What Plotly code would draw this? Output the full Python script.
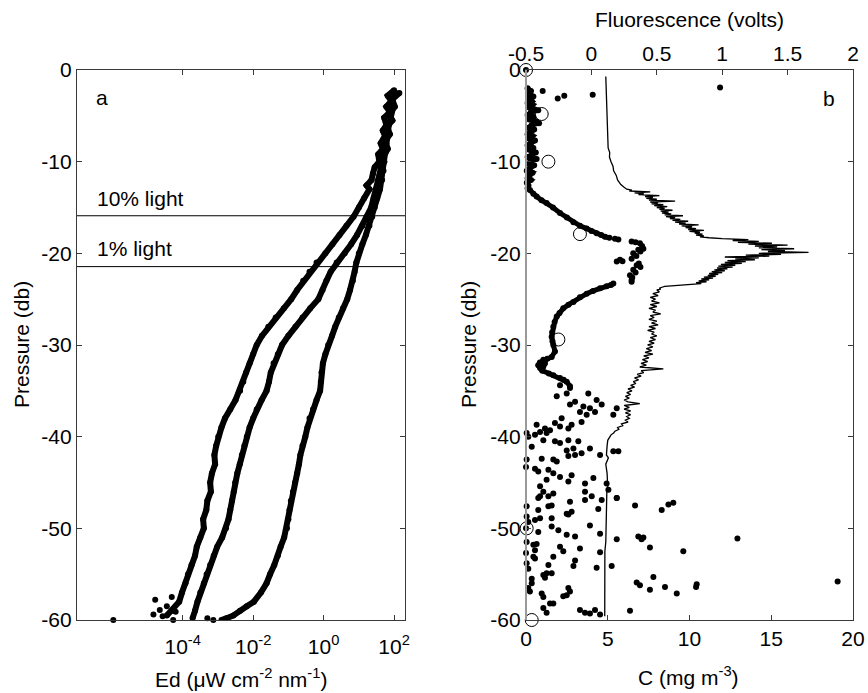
import plotly.graph_objects as go

# ---------------- Panel a: downwelling irradiance profiles (log10 Ed) ----------------
p1 = [-2.2, -2.8, -3.4, -4, -4.6, -5.2, -6, -6.6, -7.2, -8, -8.6, -9.2, -10, -10.6, -11.3, -12, -12.6, -13, -14, -15, -16,
      -17, -18, -19, -20, -21, -22, -23, -24, -25, -26, -27, -28, -29, -30, -31, -32, -33, -34, -35,
      -36, -37, -38, -39, -40, -41, -42, -43, -44, -45, -46, -47, -48, -49, -50, -51, -52, -53, -54,
      -55, -56, -57, -58, -59, -59.5]
logE1 = [2.0, 1.82, 1.92, 1.78, 1.88, 1.72, 1.78, 1.68, 1.74, 1.62, 1.68, 1.55, 1.58, 1.45, 1.4, 1.36, 1.22, 1.3, 1.15, 1.0, 0.85,
         0.65, 0.45, 0.25, 0.05, -0.2, -0.4, -0.58, -0.75, -0.92, -1.13, -1.36, -1.57, -1.75, -1.9, -2.0, -2.1, -2.2, -2.28, -2.37,
         -2.5, -2.65, -2.8, -2.9, -2.99, -3.05, -3.1, -3.08, -3.17, -3.22, -3.2, -3.3, -3.33, -3.42, -3.4, -3.5, -3.6, -3.65, -3.75,
         -3.85, -3.92, -4.02, -4.1, -4.3, -4.45]
p1_sc = [-57.8, -58.5, -59.6, -59.4, -60.0, -60.0, -57.5, -59.1, -58.9]
logE1_sc = [-4.78, -4.45, -4.57, -4.83, -5.97, -4.27, -4.31, -4.2, -4.65]

p2 = [-2.5, -3.2, -4, -4.8, -5.5, -6.2, -7, -7.8, -8.6, -9.4, -10, -10.8, -11.5, -12, -13, -14, -15, -16, -17, -18, -19, -20,
      -21, -22, -23, -24, -25, -26, -27, -28, -29, -30, -31, -32, -33, -34, -35, -36, -37, -38, -39,
      -40, -41, -42, -43, -44, -45, -46, -47, -48, -49, -50, -51, -52, -53, -54, -55, -56, -57, -58,
      -59, -59.8]
logE2 = [2.15, 1.95, 2.02, 1.85, 1.95, 1.8, 1.88, 1.75, 1.82, 1.7, 1.72, 1.62, 1.58, 1.55, 1.48, 1.42, 1.35, 1.22, 1.1, 0.95, 0.78, 0.6,
         0.37, 0.2, 0.08, -0.03, -0.15, -0.38, -0.6, -0.8, -1.0, -1.18, -1.3, -1.42, -1.5, -1.55, -1.62, -1.76, -1.9, -2.0, -2.1,
         -2.18, -2.25, -2.32, -2.38, -2.45, -2.51, -2.55, -2.6, -2.65, -2.7, -2.77, -2.88, -3.02, -3.12, -3.22, -3.32, -3.4, -3.5, -3.58,
         -3.65, -3.72]

p3 = [-2.5, -3.2, -4, -5, -6, -7, -8, -9, -10, -11, -12, -13, -14, -15, -16, -17, -18, -19, -20,
      -21, -22, -23, -24, -25, -26, -27, -28, -29, -30, -31, -32, -33, -34, -35, -36, -37, -38, -39,
      -40, -41, -42, -43, -44, -45, -46, -47, -48, -49, -50, -51, -52, -53, -54, -55, -56, -57, -58,
      -58.5, -59, -59.5, -59.8, -60]
logE3 = [2.05, 1.95, 1.98, 1.9, 1.85, 1.82, 1.78, 1.76, 1.72, 1.7, 1.66, 1.6, 1.52, 1.45, 1.38, 1.3, 1.2, 1.1, 1.0,
         0.93, 0.88, 0.83, 0.75, 0.67, 0.55, 0.43, 0.33, 0.24, 0.13, 0.05, -0.02, -0.06, -0.08, -0.1, -0.2, -0.3, -0.4, -0.46,
         -0.52, -0.6, -0.66, -0.7, -0.75, -0.81, -0.87, -0.93, -0.97, -1.0, -1.04, -1.12, -1.22, -1.3, -1.4, -1.52, -1.62, -1.78, -1.98,
         -2.18, -2.37, -2.56, -2.75, -2.9]
p3_sc = [-60.0, -59.8]
logE3_sc = [-3.13, -3.3]

light_levels = [-15.9, -21.45]
light_labels = ["10% light", "1% light"]
Ed_tick_exp = [-4, -2, 0, 2]

# ---------------- Panel b: chlorophyll profile ----------------
C_profA = [0.1, 0.3, 0.2, 0.45, 0.15, 0.35, 0.1, 0.4, 0.2, 0.55, 0.75, 0.3, 0.1, 0.45, 0.2, 0.6, 0.8, 0.35, 0.15, 0.5,
           0.25, 0.1, 0.4, 0.2, 0.55, 0.3, 0.1, 0.45, 0.2, 0.6, 0.35, 0.1, 0.65, 0.3, 0.15, 0.5, 0.25, 0.05, 0.4, 0.2,
           0.1, 0.3, 0.05, 0.15, 0.1,
           0.24, 0.45, 0.65, 0.95, 1.26, 1.65, 2.08, 2.5, 2.9, 3.3, 3.71, 4.0, 4.32, 4.6, 4.83, 5.1]
D_profA = [-2.0, -2.3, -2.6, -2.9, -3.1, -3.4, -3.6, -3.8, -4.1, -4.3, -4.4, -4.6, -4.9, -5.1, -5.4, -5.6, -5.8, -6.0, -6.3, -6.5,
           -6.8, -7.0, -7.2, -7.5, -7.7, -8.0, -8.2, -8.5, -8.7, -9.0, -9.2, -9.5, -9.7, -9.9, -10.2, -10.4, -10.7, -11.0, -11.2, -11.5,
           -11.8, -12.0, -12.3, -12.6, -12.9,
           -13.1, -13.5, -13.8, -14.2, -14.5, -15.0, -15.6, -16.1, -16.6, -17.0, -17.3, -17.55, -17.8, -18.0, -18.2, -18.3]
C_profB = [5.2, 4.93, 4.53, 4.1, 3.71, 3.3, 2.9, 2.6, 2.28, 2.05, 1.88, 1.75, 1.67, 1.6, 1.57, 1.62, 1.67, 1.77, 1.57, 1.3, 1.06,
           0.85, 0.75, 0.86, 1.16, 1.0, 1.4, 1.67, 2.08, 2.3, 2.49, 2.69]
D_profB = [-23.45, -23.6, -23.8, -24.1, -24.4, -24.8, -25.3, -25.6, -26.0, -26.5, -26.9, -27.5, -28.0, -28.6, -29.1, -29.6, -30.0,
           -30.7, -31.3, -31.5, -31.6, -31.9, -32.2, -32.5, -32.0, -32.8, -33.1, -33.3, -33.6, -33.8, -34.0, -34.5]
C_dots = [0, 1.02, 1.94, 2.34, 4.08, 11.87, 5.44, 5.65,
          6.46, 6.7, 6.97, 7.1, 7.18, 6.87, 7.0, 6.56, 6.75, 6.46, 5.75, 5.55, 5.9, 6.77, 7.0, 6.9, 6.56, 6.7, 6.36,
          6.46, 6.5, 5.34, 6.46,
          2.08, 2.69, 2.49, 1.88, 3.81, 4.32, 4.63, 3.0, 2.69, 3.51, 3.91, 3.3, 4.22, 3.71, 3.4, 5.34, 5.55, 2.18,
          1.77, 2.08, 2.79, 2.59, 0.65, 1.16, 1.47, 0.86, 1.26, 0.04, 0.14, 0.55, 1.06, 1.77, 2.08, 2.59, 3.2, 0.35,
          3.91, 2.49, 2.9, 3.4, 3.0, 2.59, 4.53, 5.34, 5.65, 0.04, 0.0, 0.96, 1.67, 1.88, 0.55, 0.75, 1.37, 1.67,
          2.08, 2.79, 1.26, 4.12, 3.61, 2.59, 0.86, 1.06, 1.67, 3.61, 4.93, 5.04, 5.55, 0.75, 1.37,
          0.86, 2.69, 3.61, 4.02, 4.63, 5.55, 0.04, 0.75, 1.37, 1.57, 2.49, 2.79, 2.59, 4.42, 6.67, 8.3, 8.71, 9.01,
          0.04, 0.14, 0.55, 0.86, 1.57, 0.0, 0.75, 1.57, 1.98, 2.49, 3.0, 3.91, 4.53, 5.55, 6.87, 7.07, 7.18, 0.04,
          0.45, 0.65, 0.55, 2.08, 2.28, 3.3, 4.53, 7.58, 9.62, 0.0, 0.45, 0.55, 1.67, 1.37, 2.9, 3.0, 0.04, 0.14,
          1.06, 1.26, 1.57, 1.16, 0.35, 0.35, 4.32, 5.24, 7.79, 6.77, 6.97, 8.5, 10.44, 10.4, 0.14, 0.24, 0.96, 1.06,
          2.59, 2.69, 2.49, 2.28, 7.58, 9.22, 1.47, 1.67, 1.06, 1.26, 3.3, 3.61, 3.91, 4.22, 4.53, 6.36,
          12.93, 19.06]
D_dots = [0, -2.3, -3.1, -2.8, -2.7, -1.9, -18.4, -18.5,
          -18.7, -18.8, -18.9, -19.2, -19.5, -19.6, -19.8, -20.0, -20.3, -20.6, -20.7, -20.9, -20.85, -21.3, -21.5, -21.1, -21.8, -22.1, -22.4,
          -22.9, -22.65, -23.3, -23.1,
          -34.4, -34.7, -35.3, -35.6, -35.3, -36.0, -36.5, -36.2, -36.5, -36.7, -36.9, -37.3, -37.3, -37.6, -38.4, -37.6, -36.9, -38.0,
          -38.5, -38.9, -38.7, -39.1, -38.7, -39.1, -39.3, -39.5, -39.6, -39.6, -40.0, -39.8, -40.4, -40.5, -40.7, -40.4, -40.5, -41.1,
          -41.3, -41.5, -41.3, -41.8, -42.0, -42.1, -42.0, -41.6, -41.6, -42.5, -43.3, -42.4, -42.5, -42.7, -43.5, -43.8, -43.6, -44.0,
          -44.4, -44.2, -44.7, -44.5, -45.1, -44.9, -45.4, -46.0, -46.2, -46.0, -45.1, -45.8, -46.7, -46.7, -46.5,
          -46.5, -47.1, -46.9, -46.5, -46.9, -46.7, -47.6, -48.0, -47.6, -47.5, -48.4, -48.2, -48.5, -47.9, -47.5, -48.0, -47.4, -47.2,
          -48.7, -49.3, -49.1, -48.9, -48.9, -50.0, -50.4, -49.8, -50.2, -50.7, -50.9, -49.7, -50.6, -51.2, -50.9, -51.2, -51.0, -51.5,
          -51.8, -51.7, -52.4, -52.0, -52.5, -52.2, -52.6, -52.1, -52.5, -52.7, -53.1, -53.3, -53.1, -54.0, -54.1, -53.5, -53.8, -54.4,
          -55.1, -54.9, -54.9, -55.4, -55.5, -56.0, -54.3, -54.1, -55.3, -55.9, -56.2, -56.4, -56.1, -56.4, -56.5, -56.9, -57.1, -57.5,
          -56.5, -56.9, -57.3, -57.4, -56.7, -57.1, -58.2, -58.2, -58.7, -59.2, -58.9, -59.2, -59.3, -58.9, -59.4, -59.0,
          -51.1, -55.8]

C_bottle = [0.0, 0.96, 1.37, 3.3, 1.98, 0.04, 0.35]
C_bottle_depth = [0.0, -4.8, -10.0, -17.9, -29.4, -50.0, -60.0]

# ---------------- Panel b: fluorescence trace ----------------
fl_depth = [-0.7, -1.5, -2.5, -3.5, -4.5, -5.5, -6.5, -7.5, -8.5, -9.0, -9.5, -10.0, -10.5, -11.0, -11.5, -12.0, -12.5, -12.8,
            -13.0, -13.1, -13.2, -13.3, -13.4, -13.5, -13.6, -13.7, -13.8, -13.9,
            -14.0, -14.1, -14.2, -14.3, -14.4, -14.5, -14.6, -14.7, -14.8, -14.9,
            -15.0, -15.1, -15.2, -15.3, -15.4, -15.5, -15.6, -15.7, -15.8, -15.9,
            -16.0, -16.1, -16.2, -16.3, -16.4, -16.5, -16.6, -16.7, -16.8, -16.9,
            -17.0, -17.1, -17.2, -17.3, -17.4, -17.5, -17.6, -17.7, -17.8, -17.9,
            -18.0, -18.1, -18.2, -18.3, -18.4, -18.5, -18.6, -18.7, -18.8, -18.9,
            -19.0, -19.1, -19.2, -19.3, -19.4, -19.5, -19.6, -19.7, -19.8, -19.9,
            -20.0, -20.1, -20.2, -20.3, -20.4, -20.5, -20.6, -20.7, -20.8, -20.9,
            -21.0, -21.1, -21.2, -21.3, -21.4, -21.5, -21.6, -21.7, -21.8, -21.9,
            -22.0, -22.1, -22.2, -22.3, -22.4, -22.5, -22.6, -22.7, -22.8, -22.9,
            -23.0, -23.1, -23.2, -23.3, -23.4, -23.5, -23.6, -23.7, -23.8, -23.9, -24.0,
            -24.2, -24.4, -24.6, -24.8, -25.0, -25.2, -25.4, -25.6, -25.8, -26.0, -26.2, -26.4, -26.6, -26.8,
            -27.0, -27.2, -27.4, -27.6, -27.8, -28.0, -28.2, -28.4, -28.6, -28.8, -29.0, -29.2, -29.4, -29.6, -29.8,
            -30.0, -30.2, -30.4, -30.6, -30.8, -31.0, -31.2, -31.4, -31.6, -31.8, -32.0, -32.2, -32.4, -32.6, -32.8,
            -33.0, -33.2, -33.4, -33.6, -33.8, -34.0, -34.2, -34.4, -34.6, -34.8, -35.0, -35.2, -35.4, -35.6, -35.8,
            -36.0, -36.2, -36.4, -36.6, -36.8, -37.0, -37.2, -37.4, -37.6, -37.8, -38.0, -38.2, -38.4, -38.6, -38.8,
            -39.0, -39.2, -39.4, -39.6, -39.8, -40.0, -40.2, -40.4,
            -41.0, -42.0, -42.3, -43.0, -44.0, -45.5, -46.0, -48.0, -50.0, -51.5, -52.5, -55.0, -58.0, -59.6]
fl_volts = [0.11, 0.112, 0.115, 0.113, 0.12, 0.118, 0.122, 0.125, 0.128, 0.14, 0.138, 0.15, 0.165, 0.17, 0.19, 0.2, 0.225, 0.25,
            0.27, 0.31, 0.29, 0.45, 0.33, 0.40, 0.36, 0.52, 0.41, 0.47,
            0.42, 0.50, 0.44, 0.64, 0.45, 0.51, 0.46, 0.55, 0.48, 0.58,
            0.50, 0.56, 0.52, 0.62, 0.53, 0.59, 0.54, 0.61, 0.56, 0.70,
            0.57, 0.64, 0.60, 0.68, 0.62, 0.74, 0.64, 0.72, 0.67, 0.82,
            0.69, 0.77, 0.72, 0.80, 0.74, 0.86, 0.75, 0.83, 0.79, 0.85,
            0.80, 0.86, 0.83, 0.90, 1.00, 1.20, 1.08, 1.28, 1.12, 1.38,
            1.20, 1.50, 1.25, 1.42, 1.28, 1.55, 1.30, 1.48, 1.35, 1.66,
            1.28, 1.45, 1.18, 1.36, 1.02, 1.28, 1.10, 1.25, 1.04, 1.18,
            1.02, 1.15, 0.99, 1.10, 0.97, 1.08, 0.96, 1.04, 0.94, 1.02,
            0.92, 1.00, 0.90, 0.97, 0.89, 0.95, 0.86, 0.93, 0.84, 0.90,
            0.82, 0.88, 0.80, 0.84, 0.72, 0.62, 0.56, 0.54, 0.52, 0.53, 0.50,
            0.52, 0.47, 0.51, 0.45, 0.49, 0.46, 0.52, 0.45, 0.50, 0.44, 0.49, 0.47, 0.53, 0.45,
            0.48, 0.44, 0.50, 0.46, 0.51, 0.44, 0.49, 0.43, 0.48, 0.46, 0.50, 0.45, 0.49, 0.44, 0.48,
            0.43, 0.47, 0.42, 0.46, 0.41, 0.47, 0.40, 0.44, 0.39, 0.43, 0.38, 0.42, 0.37, 0.55, 0.38,
            0.40, 0.35, 0.38, 0.33, 0.36, 0.32, 0.34, 0.30, 0.33, 0.28, 0.31, 0.27, 0.30, 0.26, 0.29,
            0.25, 0.28, 0.37, 0.25, 0.29, 0.25, 0.30, 0.26, 0.30, 0.27, 0.29, 0.26, 0.28, 0.23, 0.24,
            0.20, 0.21, 0.18, 0.17, 0.15, 0.14, 0.13, 0.125,
            0.12, 0.115, 0.13, 0.11, 0.12, 0.125, 0.118, 0.115, 0.117, 0.11, 0.103, 0.102, 0.102, 0.102]

C_ticks = [0, 5, 10, 15, 20]
fl_ticks = [-0.5, 0, 0.5, 1, 1.5, 2]
fl_ticktext = ["-0.5", "0", "0.5", "1", "1.5", "2"]
p_ticks = [0, -10, -20, -30, -40, -50, -60]

# ---------------- figure ----------------
FONT = "Liberation Sans, Arial, Helvetica, sans-serif"
FS = 21
FRAME = "#3a3a3a"
W, H = 868, 693


def px_x(v):
    return v / W


def px_y(v):
    return 1 - v / H


fig = go.Figure()

curve_style = dict(mode="lines+markers", line=dict(color="black", width=6),
                   marker=dict(color="black", size=6), showlegend=False, hoverinfo="skip")
for pp, ll in [(p1, logE1), (p2, logE2), (p3, logE3)]:
    fig.add_trace(go.Scatter(x=[10 ** v for v in ll], y=pp, xaxis="x", yaxis="y", **curve_style))
for pp, ll in [(p1_sc, logE1_sc), (p3_sc, logE3_sc)]:
    fig.add_trace(go.Scatter(x=[10 ** v for v in ll], y=pp, xaxis="x", yaxis="y", mode="markers",
                             marker=dict(color="black", size=6), showlegend=False, cliponaxis=False))

fig.add_trace(go.Scatter(x=fl_volts, y=fl_depth, xaxis="x3", yaxis="y2", mode="lines",
                         line=dict(color="black", width=1.3), showlegend=False))
for cc, dd in [(C_profA, D_profA), (C_profB, D_profB)]:
    fig.add_trace(go.Scatter(x=cc, y=dd, xaxis="x2", yaxis="y2", mode="lines+markers",
                             line=dict(color="black", width=5), marker=dict(color="black", size=6),
                             showlegend=False, cliponaxis=False))
fig.add_trace(go.Scatter(x=C_dots, y=D_dots, xaxis="x2", yaxis="y2", mode="markers",
                         marker=dict(color="black", size=6), showlegend=False, cliponaxis=False))
fig.add_trace(go.Scatter(x=C_bottle, y=C_bottle_depth, xaxis="x2", yaxis="y2", mode="markers",
                         marker=dict(color="rgba(0,0,0,0)", size=13, line=dict(color="black", width=1)),
                         showlegend=False, cliponaxis=False))

dom_a = [px_x(77), px_x(405)]
dom_b = [px_x(526), px_x(853)]
dom_y = [px_y(620), px_y(70)]
tickfont = dict(family=FONT, size=FS, color="black")
common = dict(showgrid=False, zeroline=False, ticks="inside", ticklen=5, tickcolor=FRAME,
              showline=True, linecolor=FRAME, linewidth=1.2, tickfont=tickfont, automargin=False)

fig.update_layout(
    template="none",
    width=W, height=H, autosize=False,
    margin=dict(l=0, r=0, t=0, b=0, pad=0, autoexpand=False),
    paper_bgcolor="white", plot_bgcolor="white",
    font=dict(family=FONT, size=FS, color="black"),
    showlegend=False,
    xaxis=dict(domain=dom_a, anchor="y", type="log", range=[-7, 2.31],
               tickvals=[10 ** e for e in Ed_tick_exp],
               ticktext=["10<sup>%d</sup>" % e for e in Ed_tick_exp],
               mirror="ticks", ticklabelstandoff=8, **common),
    yaxis=dict(domain=dom_y, anchor="x", range=[-60, 0], tickvals=p_ticks,
               ticktext=[str(v) for v in p_ticks], mirror="ticks", **common),
    xaxis2=dict(domain=dom_b, anchor="y2", range=[0, 20], tickvals=C_ticks,
                ticktext=[str(v) for v in C_ticks], mirror=False, **common),
    xaxis3=dict(domain=dom_b, anchor="y2", overlaying="x2", side="top", range=[-0.5, 2],
                tickvals=fl_ticks, ticktext=fl_ticktext, **common),
    yaxis2=dict(domain=dom_y, anchor="x2", range=[-60, 0], tickvals=p_ticks,
                ticktext=[str(v) for v in p_ticks], mirror="ticks", **common),
)

for lv in light_levels:
    fig.add_shape(type="line", xref="x domain", yref="y", x0=0, x1=1, y0=lv, y1=lv,
                  line=dict(color="black", width=1))
fig.add_shape(type="line", xref="x2 domain", yref="y2 domain", x0=0, x1=0, y0=0, y1=1,
              line=dict(color="#9a9a9a", width=2), layer="above")

ann = [
    dict(text="a", x=px_x(94), y=px_y(97), xanchor="left"),
    dict(text="b", x=px_x(821), y=px_y(99), xanchor="left"),
    dict(text=light_labels[0], x=px_x(95), y=px_y(198), xanchor="left"),
    dict(text=light_labels[1], x=px_x(95), y=px_y(248), xanchor="left"),
    dict(text="Pressure (db)", x=px_x(21), y=px_y(345), textangle=-90),
    dict(text="Pressure (db)", x=px_x(468), y=px_y(345), textangle=-90),
    dict(text="Ed (\u03bcW cm<sup>-2</sup> nm<sup>-1</sup>)", x=px_x(241), y=px_y(678)),
    dict(text="C (mg m<sup>-3</sup>)", x=px_x(688), y=px_y(676)),
    dict(text="Fluorescence (volts)", x=px_x(689), y=px_y(20)),
]
for a in ann:
    a.setdefault("xanchor", "center")
    fig.add_annotation(xref="paper", yref="paper", yanchor="middle", showarrow=False,
                       font=dict(family=FONT, size=FS, color="black"), **a)

fig.write_html("out.html")
